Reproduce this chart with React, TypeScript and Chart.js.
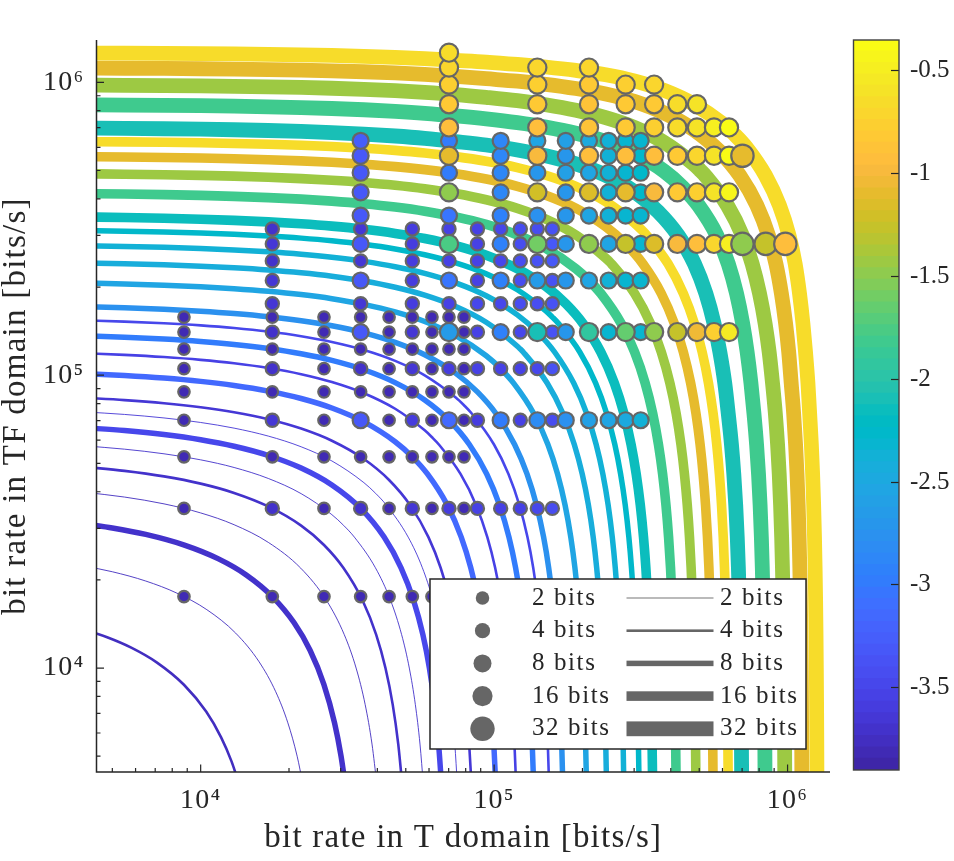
import { useEffect, useRef } from 'react';
import Chart from 'chart.js/auto';

// colorbar bands, bottom to top
const colorBands = [
  '#3e26a8', '#402ab4', '#422ec0', '#4332cb', '#4537d5', '#463cde', '#4741e5', '#4747eb',
  '#484df0', '#4852f4', '#4758f8', '#465efb', '#4563fd', '#4269fe', '#3e6fff', '#3875fe',
  '#327cfc', '#2f81fa', '#2e87f7', '#2d8cf3', '#2b91ef', '#2796eb', '#259be8', '#23a0e5',
  '#20a5e3', '#1ca9df', '#18addb', '#12b1d6', '#08b5d0', '#01b8ca', '#02bac3', '#0bbdbd',
  '#19bfb6', '#24c1ae', '#2cc4a7', '#31c69f', '#37c897', '#3fca8e', '#4acb84', '#57cc7a',
  '#64cd6f', '#72cd64', '#81cc59', '#8fcb4e', '#9dc943', '#abc739', '#b9c431', '#c5c22a',
  '#d1bf27', '#dcbd29', '#e6bb2d', '#f0ba36', '#f8ba3d', '#febe3c', '#fec338', '#fec934',
  '#fccf30', '#fad62d', '#f7dc2a', '#f5e327', '#f5e924', '#f6ef20', '#f7f51b', '#f9fb15',
];
const colorbarMin = -3.9;
const colorbarMax = -0.35;
const colorbarTicks = [-3.5, -3, -2.5, -2, -1.5, -1, -0.5];

const axisMin = 4416;
const axisMax = 1395000;
const majorTicks = [1e4, 1e5, 1e6];
const minorTicks = [
  5e3, 6e3, 7e3, 8e3, 9e3, 2e4, 3e4, 4e4, 5e4, 6e4, 7e4, 8e4, 9e4,
  2e5, 3e5, 4e5, 5e5, 6e5, 7e5, 8e5, 9e5,
];
const tickLabels: Record<number, string> = { 10000: '10⁴', 100000: '10⁵', 1000000: '10⁶' };

// curves: bit rate points in kbit/s, the TF rate runs through the same list backwards
const curve01 = [4, 4.8, 5.8, 7.1, 8.77, 10.44, 11.74, 12.74, 13.54];
const curve02 = [4, 5, 6.5, 8.3, 10.5, 13.16, 15.82, 18.02, 19.82, 21.32, 22.32];
const curve03 = [4, 5, 6.5, 8.8, 11.5, 14.3, 17.54, 20.79, 23.59, 26.29, 28.59, 30.09, 31.09];
const curve04 = [4, 5.5, 7.5, 10, 13, 17, 21.93, 26.86, 30.86, 33.86, 36.36, 38.36, 39.86];
const curve05 = [4, 5.5, 7.5, 10, 13, 17, 22, 26.32, 30.63, 35.63, 39.63, 42.63, 45.13, 47.13, 48.63];
const curve06 = [4, 5.5, 7.5, 10, 13, 17, 22, 28, 30.7, 33.4, 39.4, 44.4, 48.4, 51.4, 53.9, 55.9, 57.4];
const curve07 = [4, 5.5, 7.5, 10, 13, 17, 22, 28, 35.09, 42.18, 48.18, 53.18, 57.18, 60.18, 62.68, 64.68, 66.18];
const curve08 = [4, 5.5, 7.5, 10, 13, 17, 22, 28, 36, 39.48, 42.95, 50.95, 56.95, 61.95, 65.95, 68.95, 71.45, 73.45, 74.95];
const curve09 = [4, 5.5, 7.5, 10, 13, 17, 22, 28, 36, 43.86, 51.72, 59.72, 65.72, 70.72, 74.72, 77.72, 80.22, 82.22, 83.72];
const curve10 = [4, 5.5, 7.5, 10, 13, 17, 22, 28, 36, 46, 52.63, 59.26, 69.26, 77.26, 83.26, 88.26, 92.26, 95.26, 97.76, 99.76, 101.26];
const curve11 = [4, 5.5, 7.5, 10, 13, 17, 22, 28, 36, 46, 58, 61.41, 64.81, 76.81, 86.81, 94.81, 100.81, 105.81, 109.81, 112.81, 115.31, 117.31, 118.81];
const curve12 = [4, 5.5, 7.5, 10, 13, 17, 22, 28, 36, 46, 58, 70.18, 82.35, 94.35, 104.35, 112.35, 118.35, 123.35, 127.35, 130.35, 132.85, 134.85, 136.35];
const curve13 = [4, 5.5, 7.5, 10, 13, 17, 22, 28, 36, 46, 58, 74, 78.95, 83.9, 99.9, 111.9, 121.9, 129.9, 135.9, 140.9, 144.9, 147.9, 150.4, 152.4, 153.9];
const curve14 = [4, 5.5, 7.5, 10, 13, 17, 22, 28, 36, 46, 58, 74, 87.72, 101.44, 117.44, 129.44, 139.44, 147.44, 153.44, 158.44, 162.44, 165.44, 167.94, 169.94, 171.44];
const curve15 = [4, 5.5, 7.5, 10, 13, 17, 22, 28, 36, 46, 58, 74, 94, 105.25, 116.5, 136.5, 152.5, 164.5, 174.5, 182.5, 188.5, 193.5, 197.5, 200.5, 203, 205, 206.5];
const curve16 = [4, 5.5, 7.5, 10, 13, 17, 22, 28, 36, 46, 58, 74, 94, 120, 122.8, 125.6, 151.6, 171.6, 187.6, 199.6, 209.6, 217.6, 223.6, 228.6, 232.6, 235.6, 238.1, 240.1, 241.6];
const curve17 = [4, 5.5, 7.5, 10, 13, 17, 22, 28, 36, 46, 58, 74, 94, 120, 140.35, 160.7, 186.7, 206.7, 222.7, 234.7, 244.7, 252.7, 258.7, 263.7, 267.7, 270.7, 273.2, 275.2, 276.7];
const curve18 = [4, 5.5, 7.5, 10, 13, 17, 22, 28, 36, 46, 58, 74, 94, 120, 150, 157.9, 165.8, 195.8, 221.8, 241.8, 257.8, 269.8, 279.8, 287.8, 293.8, 298.8, 302.8, 305.8, 308.3, 310.3, 311.8];
const curve19 = [4, 5.5, 7.5, 10, 13, 17, 22, 28, 36, 46, 58, 74, 94, 120, 150, 175.45, 200.9, 230.9, 256.9, 276.9, 292.9, 304.9, 314.9, 322.9, 328.9, 333.9, 337.9, 340.9, 343.4, 345.4, 346.9];
const curve20 = [4, 5.5, 7.5, 10, 13, 17, 22, 28, 36, 46, 58, 74, 94, 120, 150, 190, 210.55, 231.1, 271.1, 301.1, 327.1, 347.1, 363.1, 375.1, 385.1, 393.1, 399.1, 404.1, 408.1, 411.1, 413.6, 415.6, 417.1];
const curve21 = [4, 5.5, 7.5, 10, 13, 17, 22, 28, 36, 46, 58, 74, 94, 120, 150, 190, 240, 245.6, 251.2, 301.2, 341.2, 371.2, 397.2, 417.2, 433.2, 445.2, 455.2, 463.2, 469.2, 474.2, 478.2, 481.2, 483.7, 485.7, 487.2];
const curve22 = [4, 5.5, 7.5, 10, 13, 17, 22, 28, 36, 46, 58, 74, 94, 120, 150, 190, 240, 280.7, 321.4, 371.4, 411.4, 441.4, 467.4, 487.4, 503.4, 515.4, 525.4, 533.4, 539.4, 544.4, 548.4, 551.4, 553.9, 555.9, 557.4];
const curve23 = [4, 5.5, 7.5, 10, 13, 17, 22, 28, 36, 46, 58, 74, 94, 120, 150, 190, 240, 300, 315.8, 331.6, 391.6, 441.6, 481.6, 511.6, 537.6, 557.6, 573.6, 585.6, 595.6, 603.6, 609.6, 614.6, 618.6, 621.6, 624.1, 626.1, 627.6];
const curve24 = [4, 5.5, 7.5, 10, 13, 17, 22, 28, 36, 46, 58, 74, 94, 120, 150, 190, 240, 300, 361.9, 423.8, 481.8, 526.8, 561.8, 587.8, 610.8, 627.8, 643.8, 655.8, 665.8, 673.8, 679.8, 684.8, 688.8, 691.8, 694.3, 696.3, 697.8];
const curve25 = [4, 5.5, 7.5, 10, 13, 17, 22, 28, 36, 46, 58, 74, 94, 120, 150, 190, 240, 300, 380, 438.55, 497.1, 574.1, 628.1, 670.1, 703.1, 728.1, 750.1, 768.1, 784.1, 796.1, 806.1, 814.1, 820.1, 825.1, 829.1, 832.1, 834.6, 836.6, 838.1];
const curve26 = [4, 5.5, 7.5, 10, 13, 17, 22, 28, 36, 46, 58, 74, 94, 120, 150, 190, 240, 300, 380, 480, 502.25, 524.5, 623.5, 701.5, 757.5, 802.5, 838.5, 865.5, 888.5, 908.5, 924.5, 936.5, 946.5, 954.5, 960.5, 965.5, 969.5, 972.5, 975, 977, 978.5];
const curve27 = [4, 5.5, 7.5, 10, 13, 17, 22, 28, 36, 46, 58, 74, 94, 120, 150, 190, 240, 300, 380, 480, 583.9, 687.8, 785.8, 860.8, 912.8, 952.8, 984.8, 1008.8, 1028.8, 1048.8, 1064.8, 1076.8, 1086.8, 1094.8, 1100.8, 1105.8, 1109.8, 1112.8, 1115.3, 1117.3, 1118.8];
const curve28 = [4, 5.5, 7.5, 10, 13, 17, 22, 28, 36, 46, 58, 74, 94, 120, 150, 190, 240, 300, 380, 480, 600, 661.6, 723.2, 841.2, 938.2, 1011.2, 1061.2, 1098.2, 1128.2, 1151.2, 1173.2, 1189.2, 1205.2, 1217.2, 1227.2, 1235.2, 1241.2, 1246.2, 1250.2, 1253.2, 1255.7, 1257.7, 1259.2];

const curveBits = [4, 2, 8, 2, 4, 2, 8, 2, 4, 8, 4, 8, 4, 8, 8, 8, 8, 8, 16, 16, 16, 16, 16, 32, 32, 32, 32, 32];
const curveBands = [2, 2, 3, 2, 3, 3, 7, 4, 4, 13, 6, 16, 7, 20, 24, 26, 27, 29, 31, 37, 44, 50, 58, 32, 37, 44, 50, 58];
const curves = [
  curve01, curve02, curve03, curve04, curve05, curve06, curve07, curve08, curve09, curve10,
  curve11, curve12, curve13, curve14, curve15, curve16, curve17, curve18, curve19, curve20,
  curve21, curve22, curve23, curve24, curve25, curve26, curve27, curve28,
];

// dots: one row per TF rate, T rate steps + bits + colorbar band of every dot
const tRateStep = 8772;
const tfRateStep = 17544;

const row1T = [1, 2, 3, 4, 5, 6, 7];
const row1Bits = [2, 2, 2, 2, 2, 2, 2];
const row1Band = [1, 1, 1, 1, 1, 1, 1];
const row2T = [1, 2, 3, 4, 5, 6, 7, 8, 9, 10, 12, 14, 16, 18];
const row2Bits = [2, 4, 2, 4, 2, 4, 2, 4, 2, 4, 4, 4, 4, 4];
const row2Band = [1, 3, 1, 3, 1, 4, 1, 5, 1, 6, 6, 6, 7, 8];
const row3T = [1, 2, 3, 4, 5, 6, 7, 8, 9];
const row3Bits = [2, 2, 2, 2, 2, 2, 2, 2, 2];
const row3Band = [1, 1, 1, 1, 1, 1, 1, 1, 1];
const row4T = [1, 2, 3, 4, 5, 6, 7, 8, 9, 10, 12, 14, 16, 18, 20, 24, 28, 32, 36];
const row4Bits = [2, 4, 2, 8, 2, 4, 2, 8, 2, 4, 8, 4, 8, 4, 8, 8, 8, 8, 8];
const row4Band = [1, 4, 1, 10, 1, 5, 1, 13, 1, 5, 16, 6, 19, 8, 20, 23, 24, 25, 27];
const row5T = [1, 2, 3, 4, 5, 6, 7, 8, 9];
const row5Bits = [2, 2, 2, 2, 2, 2, 2, 2, 2];
const row5Band = [1, 1, 1, 1, 1, 1, 1, 1, 1];
const row6T = [1, 2, 3, 4, 5, 6, 7, 8, 9, 10, 12, 14, 16, 18];
const row6Bits = [2, 4, 2, 4, 2, 4, 2, 4, 2, 4, 4, 4, 4, 4];
const row6Band = [1, 3, 1, 3, 1, 4, 1, 5, 1, 6, 6, 6, 7, 9];
const row7T = [1, 2, 3, 4, 5, 6, 7, 8, 9];
const row7Bits = [2, 2, 2, 2, 2, 2, 2, 2, 2];
const row7Band = [1, 1, 1, 1, 1, 1, 1, 1, 1];
const row8T = [1, 2, 3, 4, 5, 6, 7, 8, 9, 10, 12, 14, 16, 18, 20, 24, 28, 32, 36, 40, 48, 56, 64, 72];
const row8Bits = [2, 4, 2, 8, 2, 4, 2, 16, 2, 4, 8, 4, 16, 4, 8, 16, 8, 16, 8, 16, 16, 16, 16, 16];
const row8Band = [1, 3, 1, 10, 1, 4, 1, 22, 1, 6, 17, 7, 32, 9, 21, 35, 28, 40, 28, 43, 47, 51, 56, 60];
const row9T = [1, 2, 3, 4, 5, 6, 7, 8, 9];
const row9Bits = [2, 2, 2, 2, 2, 2, 2, 2, 2];
const row9Band = [1, 1, 1, 1, 1, 1, 1, 1, 1];
const row10T = [2, 4, 6, 8, 10, 12, 14, 16, 18];
const row10Bits = [4, 4, 4, 4, 4, 4, 4, 4, 4];
const row10Band = [4, 4, 5, 6, 7, 7, 8, 8, 9];
const row12T = [2, 4, 6, 8, 10, 12, 14, 16, 18, 20, 24, 28, 32, 36];
const row12Bits = [4, 8, 4, 8, 4, 8, 4, 8, 4, 8, 8, 8, 8, 8];
const row12Band = [4, 10, 5, 15, 6, 17, 8, 22, 9, 21, 24, 27, 28, 28];
const row14T = [2, 4, 6, 8, 10, 12, 14, 16, 18];
const row14Bits = [4, 4, 4, 4, 4, 4, 4, 4, 4];
const row14Band = [3, 4, 5, 6, 6, 7, 8, 9, 10];
const row16T = [2, 4, 6, 8, 10, 12, 14, 16, 18, 20, 24, 28, 32, 36, 40, 48, 56, 64, 72, 80, 96, 112];
const row16Bits = [4, 8, 4, 16, 4, 8, 4, 16, 4, 8, 16, 8, 16, 8, 16, 16, 16, 16, 16, 32, 32, 32];
const row16Band = [4, 10, 5, 38, 6, 17, 8, 41, 10, 21, 43, 24, 47, 28, 49, 52, 53, 57, 61, 43, 47, 53];
const row18T = [2, 4, 6, 8, 10, 12, 14, 16, 18];
const row18Bits = [4, 4, 4, 4, 4, 4, 4, 4, 4];
const row18Band = [3, 4, 5, 6, 6, 7, 8, 8, 9];
const row20T = [4, 8, 12, 16, 20, 24, 28, 32, 36];
const row20Bits = [8, 8, 8, 8, 8, 8, 8, 8, 8];
const row20Band = [10, 15, 17, 20, 21, 24, 27, 28, 28];
const row24T = [4, 8, 12, 16, 20, 24, 28, 32, 36, 40, 48, 56, 64, 72];
const row24Bits = [8, 16, 8, 16, 8, 16, 8, 16, 8, 16, 16, 16, 16, 16];
const row24Band = [10, 43, 18, 48, 21, 49, 27, 50, 29, 52, 55, 56, 59, 62];
const row28T = [4, 8, 12, 16, 20, 24, 28, 32, 36];
const row28Bits = [8, 8, 8, 8, 8, 8, 8, 8, 8];
const row28Band = [10, 16, 18, 21, 23, 24, 27, 28, 29];
const row32T = [4, 8, 12, 16, 20, 24, 28, 32, 36, 40, 48, 56, 64, 72, 80];
const row32Bits = [8, 16, 8, 16, 8, 16, 8, 16, 8, 16, 16, 16, 16, 16, 32];
const row32Band = [10, 50, 18, 52, 21, 53, 27, 53, 29, 53, 55, 57, 59, 63, 50];
const row36T = [4, 8, 12, 16, 20, 24, 28, 32, 36];
const row36Bits = [8, 8, 8, 8, 8, 8, 8, 8, 8];
const row36Band = [11, 16, 18, 24, 23, 25, 27, 28, 28];
const row40T = [8, 16, 24, 32, 40, 48, 56, 64, 72];
const row40Bits = [16, 16, 16, 16, 16, 16, 16, 16, 16];
const row40Band = [53, 53, 54, 55, 56, 58, 59, 61, 63];
const row48T = [8, 16, 24, 32, 40, 48, 56];
const row48Bits = [16, 16, 16, 16, 16, 16, 16];
const row48Band = [55, 55, 54, 55, 55, 58, 59];
const row56T = [8, 16, 24, 32, 40];
const row56Bits = [16, 16, 16, 16, 16];
const row56Band = [56, 56, 55, 56, 57];
const row64T = [8, 16, 24];
const row64Bits = [16, 16, 16];
const row64Band = [57, 57, 57];
const row72T = [8];
const row72Bits = [16];
const row72Band = [58];

const dotRows: [number, number[], number[], number[]][] = [
  [1, row1T, row1Bits, row1Band], [2, row2T, row2Bits, row2Band], [3, row3T, row3Bits, row3Band],
  [4, row4T, row4Bits, row4Band], [5, row5T, row5Bits, row5Band], [6, row6T, row6Bits, row6Band],
  [7, row7T, row7Bits, row7Band], [8, row8T, row8Bits, row8Band], [9, row9T, row9Bits, row9Band],
  [10, row10T, row10Bits, row10Band], [12, row12T, row12Bits, row12Band], [14, row14T, row14Bits, row14Band],
  [16, row16T, row16Bits, row16Band], [18, row18T, row18Bits, row18Band], [20, row20T, row20Bits, row20Band],
  [24, row24T, row24Bits, row24Band], [28, row28T, row28Bits, row28Band], [32, row32T, row32Bits, row32Band],
  [36, row36T, row36Bits, row36Band], [40, row40T, row40Bits, row40Band], [48, row48T, row48Bits, row48Band],
  [56, row56T, row56Bits, row56Band], [64, row64T, row64Bits, row64Band], [72, row72T, row72Bits, row72Band],
];

const legendBits = [2, 4, 8, 16, 32];

const dotRadius: Record<number, number> = { 2: 5.75, 4: 6.6, 8: 8, 16: 9.1, 32: 11.2 };
const lineWidth: Record<number, number> = { 2: 0.9, 4: 2.6, 8: 5.5, 16: 9.6, 32: 14.8 };
const serif = '"Liberation Serif"';
const inkColor = '#262626';
const markGrey = '#666666';

// axis lines and inward ticks, the way MATLAB draws them
const axesPlugin = {
  id: 'axesPlugin',
  afterDatasetsDraw(chart: any) {
    const { ctx, chartArea, scales } = chart;
    ctx.save();
    ctx.strokeStyle = inkColor;
    ctx.lineWidth = 1.5;
    ctx.beginPath();
    ctx.moveTo(chartArea.left, chartArea.top);
    ctx.lineTo(chartArea.left, chartArea.bottom);
    ctx.lineTo(chartArea.right, chartArea.bottom);
    ctx.stroke();
    ctx.lineWidth = 1.2;
    const drawTicks = (values: number[], len: number) => {
      values.forEach((v) => {
        const x = scales.x.getPixelForValue(v);
        const y = scales.y.getPixelForValue(v);
        ctx.beginPath();
        ctx.moveTo(x, chartArea.bottom);
        ctx.lineTo(x, chartArea.bottom - len);
        ctx.moveTo(chartArea.left, y);
        ctx.lineTo(chartArea.left + len, y);
        ctx.stroke();
      });
    };
    drawTicks(majorTicks, 7.5);
    drawTicks(minorTicks, 4);
    ctx.restore();
  },
};

// two column legend: dot sizes on the left, line widths on the right
const bitsLegendPlugin = {
  id: 'bitsLegendPlugin',
  afterDraw(chart: any) {
    const { ctx } = chart;
    ctx.save();
    ctx.fillStyle = '#ffffff';
    ctx.fillRect(430, 579, 376, 170);
    ctx.strokeStyle = inkColor;
    ctx.lineWidth = 1.5;
    ctx.strokeRect(430, 579, 376, 170);
    ctx.font = `25px ${serif}`;
    ctx.letterSpacing = '1.6px';
    ctx.textBaseline = 'middle';
    legendBits.forEach((bits, i) => {
      const y = 598 + i * 32.7;
      ctx.fillStyle = markGrey;
      ctx.beginPath();
      ctx.arc(482.5, y, dotRadius[bits] + 1, 0, Math.PI * 2);
      ctx.fill();
      ctx.fillRect(626.5, y - lineWidth[bits] / 2, 87, lineWidth[bits]);
      ctx.fillStyle = inkColor;
      ctx.fillText(`${bits} bits`, 532, y);
      ctx.fillText(`${bits} bits`, 720, y);
    });
    ctx.restore();
  },
};

const titleSpacingPlugin = {
  id: 'titleSpacingPlugin',
  beforeDraw(chart: any) {
    chart.ctx.letterSpacing = '1.24px';
  },
};

const colorbarBoxPlugin = {
  id: 'colorbarBoxPlugin',
  afterDraw(chart: any) {
    const { ctx, chartArea } = chart;
    ctx.save();
    ctx.strokeStyle = '#404040';
    ctx.lineWidth = 1.4;
    ctx.strokeRect(chartArea.left, chartArea.top, chartArea.right - chartArea.left, chartArea.bottom - chartArea.top);
    ctx.restore();
  },
};

function logAxis(title: string, isX: boolean) {
  return {
    type: 'logarithmic',
    min: axisMin,
    max: axisMax,
    grid: { display: false, drawTicks: false },
    border: { display: false },
    afterBuildTicks: (scale: any) => {
      scale.ticks = majorTicks.map((value) => ({ value }));
    },
    afterFit: (scale: any) => {
      if (isX) scale.height = 89;
      else scale.width = 96.5;
    },
    ticks: {
      autoSkip: false,
      maxRotation: 0,
      padding: isX ? 12 : 12,
      color: inkColor,
      font: { family: serif, size: 28 },
      callback: (value: number) => tickLabels[value] ?? '',
    },
    title: {
      display: true,
      text: title,
      color: inkColor,
      padding: isX ? { top: 0, bottom: 6 } : { top: 0, bottom: 0 },
      font: { family: serif, size: 33, lineHeight: 1 },
    },
  };
}

export default function App() {
  const chartRef = useRef<HTMLCanvasElement | null>(null);
  const colorbarRef = useRef<HTMLCanvasElement | null>(null);

  useEffect(() => {
    const ctx = chartRef.current?.getContext('2d');
    const barCtx = colorbarRef.current?.getContext('2d');
    if (!ctx || !barCtx) return;

    // bigger dots first: Chart.js paints the first dataset on top
    const dotSets = [32, 16, 8, 4, 2].map((bits) => {
      const points: { x: number; y: number }[] = [];
      const colors: string[] = [];
      dotRows.forEach(([row, tSteps, rowBits, rowBands]) => {
        tSteps.forEach((t, i) => {
          if (rowBits[i] !== bits) return;
          points.push({ x: t * tRateStep, y: row * tfRateStep });
          colors.push(colorBands[rowBands[i]]);
        });
      });
      return {
        data: points,
        showLine: false,
        clip: false,
        pointRadius: dotRadius[bits],
        pointBorderWidth: 2.2,
        pointBorderColor: markGrey,
        pointBackgroundColor: colors,
      };
    });

    const lineSets = curves
      .map((rates, i) => ({
        data: rates.map((rate, j) => ({ x: rate * 1000, y: rates[rates.length - 1 - j] * 1000 })),
        showLine: true,
        clip: 0,
        pointRadius: 0,
        borderColor: colorBands[curveBands[i]],
        borderWidth: lineWidth[curveBits[i]],
        cubicInterpolationMode: 'monotone',
      }))
      .reverse();

    const chart = new Chart(ctx, {
      type: 'scatter',
      data: { datasets: [...dotSets, ...lineSets] as any },
      options: {
        responsive: false,
        animation: false,
        devicePixelRatio: 1,
        layout: { padding: { left: 0, top: 40, right: 124, bottom: 0 } },
        plugins: { legend: { display: false }, tooltip: { enabled: false } },
        scales: {
          x: logAxis('bit rate in T domain [bits/s]', true),
          y: logAxis('bit rate in TF domain [bits/s]', false),
        } as any,
      },
      plugins: [titleSpacingPlugin, axesPlugin, bitsLegendPlugin],
    });

    const bandStep = (colorbarMax - colorbarMin) / colorBands.length;
    const colorbar = new Chart(barCtx, {
      type: 'bar',
      data: {
        labels: [''],
        datasets: colorBands.map((color, i) => ({
          data: [[colorbarMin + i * bandStep, colorbarMin + (i + 1.04) * bandStep]],
          backgroundColor: color,
          borderWidth: 0,
          barPercentage: 1,
          categoryPercentage: 1,
          grouped: false,
        })) as any,
      },
      options: {
        responsive: false,
        animation: false,
        devicePixelRatio: 1,
        layout: { padding: { left: 13.5, top: 40, right: 0, bottom: 91 } },
        plugins: { legend: { display: false }, tooltip: { enabled: false } },
        scales: {
          x: { display: false },
          y: {
            position: 'right',
            min: colorbarMin,
            max: colorbarMax,
            border: { display: false },
            grid: { drawOnChartArea: false, tickLength: -8, tickColor: inkColor, tickWidth: 1.2, z: 1 },
            afterBuildTicks: (scale: any) => {
              scale.ticks = colorbarTicks.map((value) => ({ value }));
            },
            afterFit: (scale: any) => {
              scale.width = 55;
            },
            ticks: {
              padding: 19,
              color: inkColor,
              font: { family: serif, size: 25 },
              callback: (value: any) => String(value),
            },
          },
        } as any,
      },
      plugins: [colorbarBoxPlugin],
    });

    return () => {
      chart.destroy();
      colorbar.destroy();
    };
  }, []);

  return (
    <div style={{ position: 'absolute', left: 0, top: 0, width: 954, height: 861, background: '#fff' }}>
      <canvas ref={chartRef} width={954} height={861} style={{ position: 'absolute', left: 0, top: 0 }}></canvas>
      <canvas ref={colorbarRef} width={114} height={861} style={{ position: 'absolute', left: 840, top: 0 }}></canvas>
    </div>
  );
}
